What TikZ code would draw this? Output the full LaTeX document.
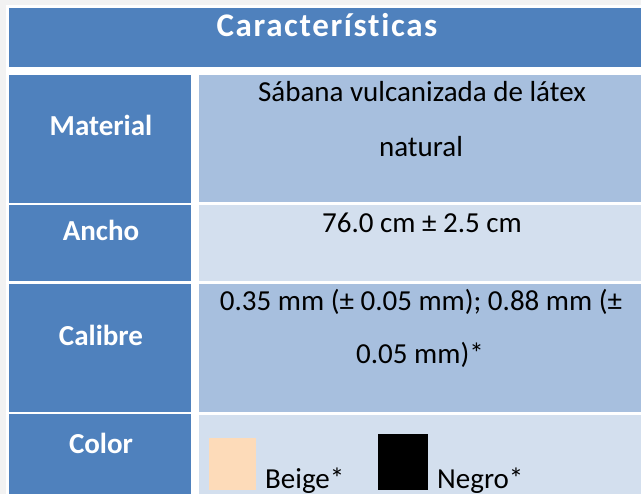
\documentclass[tikz,border=0pt]{standalone}
\usepackage{fontspec}
\setmainfont{Carlito}
\newfontfamily\headfont[LetterSpace=5,Ligatures={NoCommon,NoRare}]{Carlito}
\definecolor{pagegray}{HTML}{F2F2F2}
\definecolor{hdrblue}{HTML}{4F81BD}
\definecolor{midblue}{HTML}{A7BFDE}
\definecolor{lightblue}{HTML}{D3DFEE}
\definecolor{beigeswatch}{HTML}{FDDBB9}
\tikzset{
  lbl/.style={anchor=base, text=white, font=\fontsize{29}{35}\selectfont\bfseries, inner sep=0pt},
  val/.style={anchor=base, text=black, font=\fontsize{29}{35}\selectfont, inner sep=0pt},
  hdr/.style={anchor=base, text=white, font=\headfont\fontsize{33}{40}\selectfont\bfseries, inner sep=0pt},
}
\begin{document}
\begin{tikzpicture}[x=1pt,y=-1pt]
\useasboundingbox (0,0) rectangle (641,494);
\fill[pagegray] (0,0) rectangle (641,494);
\fill[white] (6,5) rectangle (641,494);
% header
\fill[hdrblue] (9,8) rectangle (641,67);
% rows
\fill[hdrblue] (9,75) rectangle (191,203);
\fill[midblue] (199,75) rectangle (641,202.5);
\fill[hdrblue] (9,205.5) rectangle (191,281);
\fill[lightblue] (199,205.5) rectangle (641,281);
\fill[hdrblue] (9,284) rectangle (191,412.5);
\fill[midblue] (199,284) rectangle (641,412);
\fill[hdrblue] (9,414.5) rectangle (191,500);
\fill[lightblue] (199,415) rectangle (641,500);
% swatches
\fill[beigeswatch] (209,438) rectangle (256,490);
\fill[black] (378,434) rectangle (428,490);
% texts
\node[hdr] (title) at (327,37) {Caracter\'{\i}sticas};
\node[lbl] (mat) at (101,136) {Material};
\node[val] (mat1) at (422,102) {Sábana vulcanizada de látex};
\node[val] (mat2) at (421,157) {natural};
\node[lbl] (anc) at (101,241) {Ancho};
\node[val] (anc1) at (422,233) {76.0 cm ± 2.5 cm};
\node[lbl] (cal) at (101,346) {Calibre};
\node[val] (cal1) at (421,311) {0.35 mm (± 0.05 mm); 0.88 mm (±};
\node[val] (cal2) at (420,364) {0.05 mm)*};
\node[lbl] (col) at (101,454) {Color};
\node[val, anchor=base west] (beige) at (265,489) {Beige*};
\node[val, anchor=base west] (negro) at (437,489) {Negro*};
\end{tikzpicture}
\end{document}
